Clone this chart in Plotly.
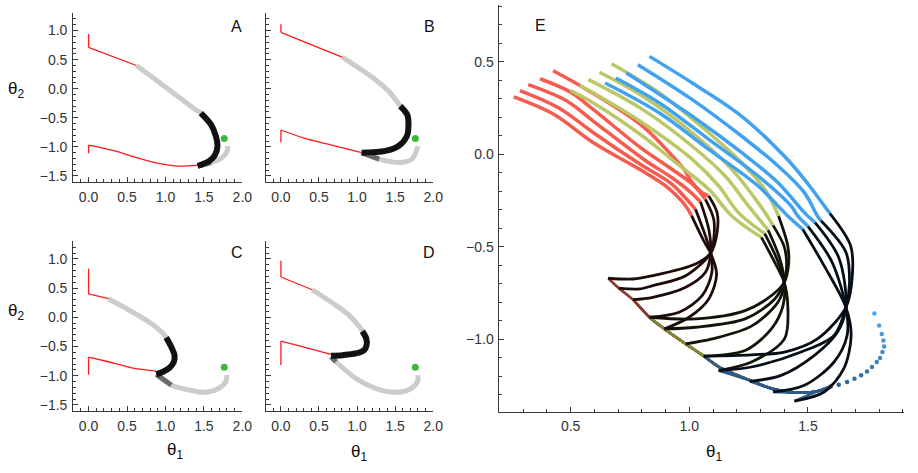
import plotly.graph_objects as go

W, H = 918, 473

# ---------------- Panel E data ----------------
RED_UP_X = [[0.26, 0.43, 0.596, 0.79, 0.90, 0.985, 1.01],
            [0.286, 0.45, 0.596, 0.80, 0.92, 0.99, 1.026],
            [0.321, 0.48, 0.596, 0.81, 0.93, 1.005, 1.047],
            [0.371, 0.50, 0.596, 0.80, 0.925, 1.02, 1.068],
            [0.426, 0.568, 0.804, 0.929, 0.978, 1.0125, 1.054, 1.082]]
RED_UP_Y = [[0.31, 0.215, 0.062, -0.082, -0.172, -0.28, -0.334],
            [0.344, 0.25, 0.116, -0.06, -0.155, -0.245, -0.298],
            [0.376, 0.29, 0.178, -0.03, -0.13, -0.205, -0.258],
            [0.408, 0.335, 0.241, 0.03, -0.08, -0.17, -0.244],
            [0.451, 0.349, 0.151, -0.01, -0.082, -0.154, -0.208, -0.226]]
RED_MID_X = [[1.01, 1.061, 1.09, 1.115, 1.082, 0.999, 0.895],
             [1.026, 1.068, 1.09, 1.095, 1.054, 0.957, 0.832],
             [1.047, 1.082, 1.09, 1.068, 0.985, 0.846, 0.7625],
             [1.068, 1.103, 1.103, 1.09, 0.985, 0.846, 0.79, 0.703],
             [1.082, 1.117, 1.117, 1.09, 1.026, 0.846, 0.7625, 0.658]]
RED_MID_Y = [[-0.334, -0.469, -0.535, -0.65, -0.783, -0.882, -0.945],
             [-0.298, -0.442, -0.535, -0.64, -0.765, -0.855, -0.882],
             [-0.258, -0.406, -0.535, -0.639, -0.72, -0.774, -0.787],
             [-0.244, -0.352, -0.46, -0.535, -0.657, -0.711, -0.729, -0.725],
             [-0.226, -0.316, -0.424, -0.535, -0.594, -0.657, -0.675, -0.671]]

GREEN_UP_X = [[0.50, 0.596, 0.804, 0.943, 1.082, 1.179, 1.304],
              [0.537, 0.596, 0.804, 1.0125, 1.124, 1.207, 1.318],
              [0.575, 0.804, 1.0125, 1.151, 1.249, 1.332],
              [0.621, 0.804, 1.0125, 1.179, 1.29, 1.353],
              [0.672, 0.874, 1.082, 1.221, 1.318, 1.376]]
GREEN_UP_Y = [[0.344, 0.277, 0.097, -0.046, -0.19, -0.334, -0.45],
              [0.372, 0.331, 0.169, -0.028, -0.172, -0.316, -0.43],
              [0.403, 0.241, 0.043, -0.118, -0.28, -0.41],
              [0.443, 0.313, 0.116, -0.082, -0.262, -0.385],
              [0.489, 0.331, 0.116, -0.046, -0.19, -0.334]]
GREEN_MID_X = [[1.304, 1.36, 1.40, 1.415, 1.401, 1.262, 1.124],
               [1.318, 1.37, 1.40, 1.395, 1.346, 1.235, 1.061],
               [1.332, 1.38, 1.40, 1.374, 1.262, 1.096, 0.985],
               [1.353, 1.40, 1.41, 1.40, 1.36, 1.235, 1.026, 0.895],
               [1.376, 1.415, 1.418, 1.40, 1.346, 1.235, 1.026, 0.832]]
GREEN_MID_Y = [[-0.45, -0.585, -0.693, -0.819, -0.999, -1.124, -1.17],
               [-0.43, -0.57, -0.693, -0.819, -0.945, -1.062, -1.092],
               [-0.41, -0.56, -0.693, -0.80, -0.93, -0.999, -1.026],
               [-0.385, -0.50, -0.60, -0.693, -0.783, -0.891, -0.936, -0.945],
               [-0.334, -0.496, -0.603, -0.693, -0.765, -0.846, -0.891, -0.882]]

BLUE_UP_X = [[0.645, 0.874, 1.082, 1.29, 1.374, 1.415, 1.478],
             [0.69, 0.874, 1.082, 1.29, 1.429, 1.457, 1.50],
             [0.735, 1.0125, 1.221, 1.374, 1.485, 1.53],
             [0.783, 1.0125, 1.221, 1.374, 1.485, 1.54, 1.555],
             [0.832, 1.0125, 1.221, 1.40, 1.485, 1.592]]
BLUE_UP_Y = [[0.385, 0.223, 0.026, -0.172, -0.28, -0.334, -0.406],
             [0.412, 0.277, 0.08, -0.118, -0.28, -0.334, -0.39],
             [0.439, 0.205, 0.008, -0.154, -0.316, -0.37],
             [0.484, 0.295, 0.097, -0.064, -0.208, -0.334, -0.36],
             [0.529, 0.385, 0.205, -0.01, -0.136, -0.32]]
BLUE_MID_X = [[1.478, 1.568, 1.66, 1.682, 1.651, 1.568, 1.443],
              [1.50, 1.60, 1.66, 1.665, 1.61, 1.485, 1.353],
              [1.53, 1.63, 1.66, 1.624, 1.526, 1.387, 1.255],
              [1.555, 1.66, 1.675, 1.66, 1.61, 1.471, 1.262, 1.124],
              [1.592, 1.68, 1.686, 1.66, 1.54, 1.401, 1.262, 1.061]]
BLUE_MID_Y = [[-0.406, -0.603, -0.828, -0.981, -1.16, -1.286, -1.336],
              [-0.39, -0.58, -0.828, -0.981, -1.124, -1.25, -1.286],
              [-0.37, -0.56, -0.828, -0.963, -1.089, -1.196, -1.229],
              [-0.36, -0.53, -0.70, -0.828, -0.981, -1.07, -1.151, -1.17],
              [-0.32, -0.496, -0.675, -0.828, -0.999, -1.07, -1.085, -1.092]]

BOUNDARY_X = [0.658, 0.703, 0.7625, 0.832, 0.895, 0.985, 1.061, 1.124, 1.255, 1.353, 1.457, 1.54, 1.596]
BOUNDARY_Y = [-0.671, -0.725, -0.787, -0.882, -0.945, -1.026, -1.092, -1.15, -1.223, -1.27, -1.29, -1.282, -1.256]
END_X = [1.596, 1.630, 1.665, 1.696, 1.724, 1.749, 1.770, 1.790, 1.804, 1.814, 1.821, 1.818, 1.811, 1.80, 1.780]
END_Y = [-1.256, -1.247, -1.232, -1.214, -1.196, -1.175, -1.151, -1.124, -1.103, -1.070, -1.040, -1.008, -0.972, -0.927, -0.862]

# ---------------- Panels A-D data ----------------
A_UP_X = [0.62, 0.90, 1.16, 1.33, 1.46]
A_UP_Y = [0.40, 0.13, -0.13, -0.30, -0.42]
A_MID_X = [1.46, 1.591, 1.656, 1.677, 1.643, 1.570, 1.419]
A_MID_Y = [-0.42, -0.615, -0.815, -0.986, -1.146, -1.243, -1.329]
A_TAIL_X = [1.419, 1.59, 1.72, 1.80, 1.806]
A_TAIL_Y = [-1.329, -1.27, -1.20, -1.09, -0.986]
A_RED_TOP_X = [0.0, 0.0, 0.62]
A_RED_TOP_Y = [0.94, 0.71, 0.40]
A_RED_LOW_X = [0.0, 0.0, 0.344, 0.56, 0.86, 1.16, 1.419]
A_RED_LOW_Y = [-1.11, -0.97, -1.07, -1.16, -1.27, -1.33, -1.32]

B_UP_X = [0.81, 1.026, 1.242, 1.416, 1.567]
B_UP_Y = [0.54, 0.355, 0.155, -0.045, -0.30]
B_MID_X = [1.567, 1.66, 1.675, 1.654, 1.545, 1.372, 1.06]
B_MID_Y = [-0.30, -0.45, -0.615, -0.815, -0.986, -1.07, -1.10]
B_TAIL_X = [1.06, 1.29, 1.55, 1.72, 1.80]
B_TAIL_Y = [-1.10, -1.21, -1.27, -1.21, -0.99]
B_RED_TOP_X = [0.0, 0.0, 0.81]
B_RED_TOP_Y = [1.11, 0.97, 0.54]
B_RED_LOW_X = [0.0, 0.0, 0.29, 0.72, 1.06]
B_RED_LOW_Y = [-0.92, -0.71, -0.844, -0.986, -1.10]

C_UP_X = [0.258, 0.645, 0.817, 0.989, 1.01]
C_UP_Y = [0.318, 0.034, -0.108, -0.307, -0.347]
C_MID_X = [1.01, 1.075, 1.118, 1.11, 1.054, 0.968, 0.882]
C_MID_Y = [-0.347, -0.506, -0.648, -0.761, -0.864, -0.932, -0.977]
C_TAIL_X = [0.882, 1.075, 1.247, 1.505, 1.677, 1.785, 1.80]
C_TAIL_Y = [-0.977, -1.159, -1.227, -1.284, -1.227, -1.102, -0.989]
C_RED_TOP_X = [0.0, 0.0, 0.258]
C_RED_TOP_Y = [0.83, 0.40, 0.318]
C_RED_LOW_X = [0.0, 0.0, 0.258, 0.559, 0.882]
C_RED_LOW_Y = [-0.98, -0.68, -0.761, -0.864, -0.92]

D_UP_X = [0.411, 0.723, 0.896, 1.048, 1.069]
D_UP_Y = [0.472, 0.205, 0.034, -0.193, -0.239]
D_MID_X = [1.069, 1.121, 1.126, 1.091, 0.983, 0.81, 0.658]
D_MID_Y = [-0.239, -0.364, -0.477, -0.563, -0.619, -0.648, -0.659]
D_TAIL_X = [0.658, 0.723, 0.983, 1.242, 1.502, 1.697, 1.797, 1.797]
D_TAIL_Y = [-0.676, -0.761, -1.045, -1.216, -1.284, -1.227, -1.091, -0.989]
D_RED_TOP_X = [0.0, 0.0, 0.411]
D_RED_TOP_Y = [0.97, 0.69, 0.472]
D_RED_LOW_X = [0.0, 0.0, 0.29, 0.658]
D_RED_LOW_Y = [-0.818, -0.409, -0.506, -0.636]

GOAL_X = [1.765]
GOAL_Y = [-0.855]

# ---------------- styles ----------------
RED = '#F65B4D'
GREEN = '#BCC865'
BLUE = '#42A2F2'
FAM = {
    'red': dict(col=RED, dark='#1F0C0A', tail='#8E3A30'),
    'green': dict(col=GREEN, dark='#121409', tail='#7F8A38'),
    'blue': dict(col=BLUE, dark='#070E16', tail='#2C5C8C'),
}
FONT = 'Liberation Sans, Arial, sans-serif'

fig = go.Figure()


def line(xs, ys, color, width, ax, shape='spline', smooth=0.6):
    fig.add_trace(go.Scatter(
        x=xs, y=ys, mode='lines',
        line=dict(color=color, width=width, shape=shape, smoothing=smooth),
        xaxis='x' + ax, yaxis='y' + ax, hoverinfo='skip', showlegend=False))


# ---------- panels A-D ----------
panels = {
    '': (A_UP_X, A_UP_Y, A_MID_X, A_MID_Y, A_TAIL_X, A_TAIL_Y,
         A_RED_TOP_X, A_RED_TOP_Y, A_RED_LOW_X, A_RED_LOW_Y),
    '2': (B_UP_X, B_UP_Y, B_MID_X, B_MID_Y, B_TAIL_X, B_TAIL_Y,
          B_RED_TOP_X, B_RED_TOP_Y, B_RED_LOW_X, B_RED_LOW_Y),
    '3': (C_UP_X, C_UP_Y, C_MID_X, C_MID_Y, C_TAIL_X, C_TAIL_Y,
          C_RED_TOP_X, C_RED_TOP_Y, C_RED_LOW_X, C_RED_LOW_Y),
    '4': (D_UP_X, D_UP_Y, D_MID_X, D_MID_Y, D_TAIL_X, D_TAIL_Y,
          D_RED_TOP_X, D_RED_TOP_Y, D_RED_LOW_X, D_RED_LOW_Y),
}
for ax, (ux, uy, mx, my, tx, ty, rtx, rty, rlx, rly) in panels.items():
    line(rtx[:2], rty[:2], '#FF1A1A', 1.3, ax, shape='linear')
    line(rtx[1:] + ux, rty[1:] + uy, '#FF1A1A', 1.3, ax)
    line(rlx[:2], rly[:2], '#FF1A1A', 1.3, ax, shape='linear')
    line(rlx[1:], rly[1:], '#FF1A1A', 1.3, ax)
    line(ux, uy, '#CCCCCC', 5, ax, smooth=0.9)
    line(tx, ty, '#CCCCCC', 5, ax, smooth=0.9)
    line(tx[:2], ty[:2], '#6A6A6A', 5, ax)
    line(mx, my, '#111111', 6, ax, smooth=0.9)
    fig.add_trace(go.Scatter(x=GOAL_X, y=GOAL_Y, mode='markers',
                             marker=dict(color='#3DB83D', size=7),
                             xaxis='x' + ax, yaxis='y' + ax,
                             hoverinfo='skip', showlegend=False))

# ---------- panel E ----------
fams = [('red', RED_UP_X, RED_UP_Y, RED_MID_X, RED_MID_Y),
        ('green', GREEN_UP_X, GREEN_UP_Y, GREEN_MID_X, GREEN_MID_Y),
        ('blue', BLUE_UP_X, BLUE_UP_Y, BLUE_MID_X, BLUE_MID_Y)]

for name, ux, uy, mx, my in fams:
    for k in range(len(mx)):
        cx, cy = mx[k][-1], my[k][-1]
        i = next(j for j, bx in enumerate(BOUNDARY_X) if bx > cx + 0.02)
        line([cx] + BOUNDARY_X[i:], [cy] + BOUNDARY_Y[i:], FAM[name]['tail'], 2.5, '5', smooth=0.8)

n = len(END_X)
c0, c1 = (44, 92, 140), (70, 168, 245)
dot_cols = ['rgb(%d,%d,%d)' % tuple(round(a + (b - a) * t / (n - 1)) for a, b in zip(c0, c1))
            for t in range(n)]
fig.add_trace(go.Scatter(x=END_X, y=END_Y, mode='markers',
                         marker=dict(color=dot_cols, size=4.5),
                         xaxis='x5', yaxis='y5', hoverinfo='skip', showlegend=False))

for name, ux, uy, mx, my in fams:
    for k in range(len(ux)):
        line(ux[k], uy[k], FAM[name]['col'], 3.5, '5', smooth=1.0)
for name, ux, uy, mx, my in fams:
    for k in range(len(mx)):
        line(mx[k], my[k], FAM[name]['dark'], 2.8, '5', smooth=0.9)


# ---------- axes ----------
def axis(rng, domain, anchor, labels=True, standoff=0):
    return dict(range=rng, domain=domain, anchor=anchor, showline=True,
                linecolor='#3a3a3a', linewidth=1, ticks='inside', ticklen=5,
                tickwidth=1, tickcolor='#3a3a3a', dtick=0.5, tick0=0,
                tickformat='.1f',
                minor=dict(ticks='inside', ticklen=3, dtick=0.1, tickwidth=1,
                           tickcolor='#3a3a3a'),
                showgrid=False, zeroline=False, showticklabels=labels,
                tickfont=dict(family=FONT, size=14, color='#333333'),
                ticklabelstandoff=standoff)


def px(x):
    return min(1.0, max(0.0, x / W))


def py(y):
    return min(1.0, max(0.0, 1 - y / H))


XA = [px(74), px(245)]
XB = [px(268.6), px(438)]
YTOP = [py(182.5), py(13.2)]
YBOT = [py(412.5), py(242.4)]
XR = [-0.2, 2.0]
YR = [-1.6, 1.3]

fig.update_layout(
    width=W, height=H, margin=dict(l=0, r=0, t=0, b=0),
    paper_bgcolor='white', plot_bgcolor='white', showlegend=False,
    xaxis=axis(XR, XA, 'y', standoff=2),
    yaxis=axis(YR, YTOP, 'x', standoff=2),
    xaxis2=axis(XR, XB, 'y2', standoff=2),
    yaxis2=axis(YR, YTOP, 'x2', labels=False),
    xaxis3=axis(XR, XA, 'y3', standoff=2),
    yaxis3=axis(YR, YBOT, 'x3', standoff=2),
    xaxis4=axis(XR, XB, 'y4', standoff=2),
    yaxis4=axis(YR, YBOT, 'x4', labels=False),
    xaxis5=axis([0.2, 1.905], [px(505), px(914)], 'y5', standoff=2),
    yaxis5=axis([-1.392, 0.807], [py(413.3), py(5)], 'x5', standoff=2),
)


def label(text, x, y, size):
    fig.add_annotation(text=text, x=px(x), y=py(y), xref='paper', yref='paper',
                       xanchor='center', yanchor='middle', showarrow=False,
                       font=dict(family=FONT, size=size, color='#111'))


for t, x, y in [('A', 239, 27), ('B', 434, 27), ('C', 240, 254), ('D', 434, 254), ('E', 546, 26)]:
    label(t, x, y, 16)
for x, y in [(16, 90), (16, 313)]:
    label('θ<sub>2</sub>', x, y, 17)
for x, y in [(177, 453), (363, 455), (722, 455)]:
    label('θ<sub>1</sub>', x, y, 17)

# remove the default page margin so the figure sits at the window's origin
fig.write_html('out.html',
               config={'displayModeBar': False},
               post_script="document.body.style.margin='0';"
                           "document.body.style.overflow='hidden';")
